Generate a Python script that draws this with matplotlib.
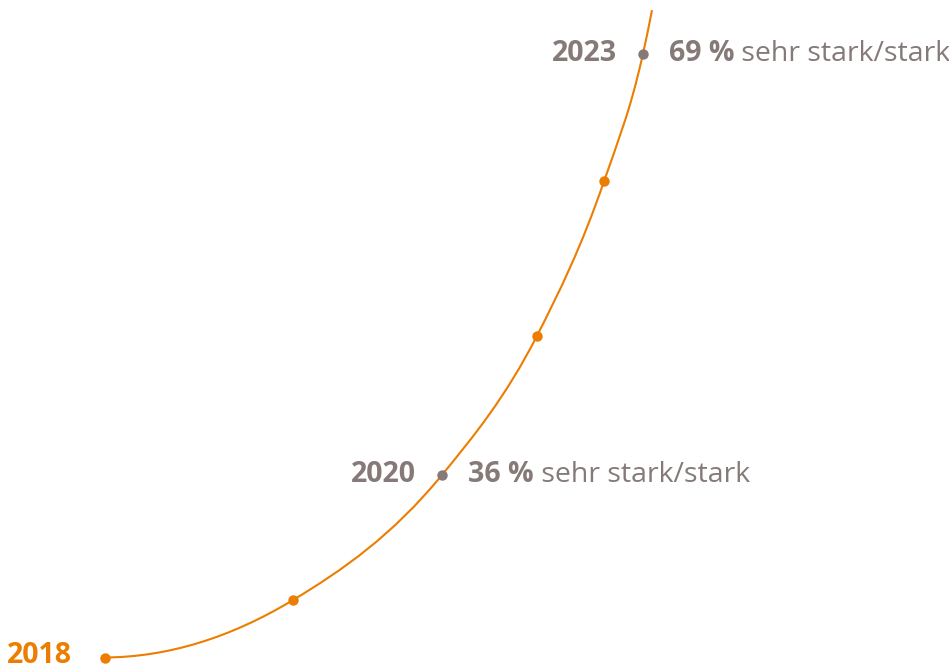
import matplotlib.pyplot as plt
import numpy as np
from matplotlib.path import Path
from matplotlib.patches import PathPatch

# share "sehr stark/stark" per year
years = [2018, 2019, 2020, 2021, 2022, 2023]
values = [21.7, 26.2, 36, 46.9, 59.0, 69]
# horizontal placement of each year along the curve (picture units)
x_pos = [105, 293, 442, 537, 604, 643]
# curve runs on a bit past 2023
tail_x, tail_val = 652, 72.4
labelled = {2020: '36 %', 2023: '69 %'}

ORANGE = '#ec7d00'
GREY = '#857a78'
FS = 20.5

plt.rcParams['font.family'] = ['Open Sans', 'DejaVu Sans']


def tangents(x, y):
    # three-point (parabolic) derivative estimates
    h = np.diff(x)
    d = np.diff(y) / h
    m = np.zeros_like(y)
    for k in range(1, len(x) - 1):
        m[k] = (h[k] * d[k - 1] + h[k - 1] * d[k]) / (h[k - 1] + h[k])
    m[0] = max(0, ((2 * h[0] + h[1]) * d[0] - h[0] * d[1]) / (h[0] + h[1]))
    m[-1] = ((2 * h[-1] + h[-2]) * d[-1] - h[-1] * d[-2]) / (h[-1] + h[-2])
    return m


fig = plt.figure(figsize=(9.49, 6.69), dpi=100)
ax = fig.add_axes([0, 0, 1, 1])
ax.set_xlim(0, 949)
ax.set_ylim(20.8, 73.2)
ax.axis('off')

# smooth line through the points as cubic bezier segments
px = np.array(x_pos + [tail_x], dtype=float)
py = np.array(values + [tail_val], dtype=float)
m = tangents(px, py)
verts = [(px[0], py[0])]
codes = [Path.MOVETO]
for k in range(len(px) - 1):
    h = px[k + 1] - px[k]
    verts += [(px[k] + h / 3, py[k] + m[k] * h / 3),
              (px[k + 1] - h / 3, py[k + 1] - m[k + 1] * h / 3),
              (px[k + 1], py[k + 1])]
    codes += [Path.CURVE4] * 3
ax.add_patch(PathPatch(Path(verts, codes), fc='none', ec=ORANGE, lw=1.5, zorder=2))

for yr, x, v in zip(years, x_pos, values):
    col = GREY if yr in labelled else ORANGE
    ax.plot(x, v, 'o', ms=7.5, color=col, mec='none', zorder=3)

# year labels
for yr, x, v in zip(years, x_pos, values):
    if yr in labelled:
        ax.annotate(str(yr), (x, v), xytext=(-26, 0), textcoords='offset pixels',
                    ha='right', va='center', fontsize=FS, fontweight='bold', color=GREY)
        t = ax.annotate(labelled[yr], (x, v), xytext=(26, 0), textcoords='offset pixels',
                        ha='left', va='center', fontsize=FS, fontweight='bold', color=GREY)
        ax.annotate(' sehr stark/stark', xy=(1, 0), xycoords=t, ha='left', va='bottom',
                    fontsize=FS, color=GREY)
    elif yr == years[0]:
        ax.annotate(str(yr), (x, v), xytext=(-33, 2), textcoords='offset pixels',
                    ha='right', va='center', fontsize=FS, fontweight='bold', color=ORANGE)

fig.savefig('out.png', dpi=100)
